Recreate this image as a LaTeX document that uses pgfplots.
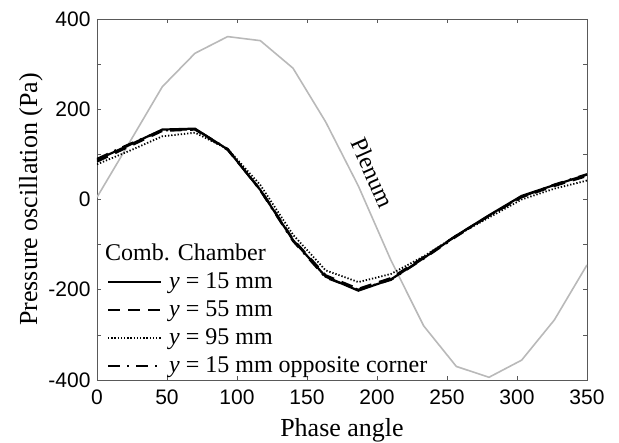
\documentclass[border=0pt]{standalone}
\usepackage{fontspec}
\setmainfont{Liberation Serif}
\setsansfont{Liberation Sans}
\usepackage{pgfplots}
\pgfplotsset{compat=1.18}
\begin{document}
\begin{tikzpicture}
\useasboundingbox (-97pt,-63pt) rectangle (522pt,380pt);
\begin{axis}[
 at={(0pt,0pt)}, anchor=south west,
 scale only axis, width=490pt, height=361pt,
 xmin=0, xmax=350, ymin=-400, ymax=400,
 xtick={0,50,...,350}, ytick={-400,-200,...,400}, minor ytick={-300,-100,100,300},
 tick align=inside, major tick length=4pt, minor tick length=4pt,
 axis line style={black!65, line width=0.8pt},
 every tick/.style={black!65, line width=0.6pt},
 every minor tick/.style={black!65, line width=0.6pt},
 tick label style={font=\fontsize{21}{25}\sffamily},
 xticklabel style={yshift=-6pt},
 yticklabel style={xshift=-3pt},
 /pgf/number format/assume math mode=true,
 xlabel={Phase angle}, ylabel={Pressure oscillation (Pa)},
 label style={font=\fontsize{26}{30}\selectfont},
 xlabel style={yshift=-7pt},
 ylabel style={yshift=-1pt},
 legend style={draw=none, fill=none, at={(axis cs:7,-90)}, anchor=north west,
   font=\fontsize{24}{28}\selectfont, inner sep=0pt, row sep=0pt,
   nodes={inner sep=2pt, text height=18pt, text depth=6pt},
   /tikz/every odd column/.append style={column sep=5pt}},
 legend cell align=left,
 legend image code/.code={\draw[#1] (0pt,0pt) -- (53pt,0pt);},
]
\addplot[gray!55, line width=1.6pt, forget plot] coordinates {
(0,5) (23.33,127) (46.67,250) (70,324) (93.33,361) (116.67,352) (140,291) (163.33,172)
(186.67,30) (210,-135) (233.33,-280) (256.67,-370) (280,-394) (303.33,-356) (326.67,-267) (350,-145)};
\addlegendimage{empty legend}
\addlegendentry{\kern-64pt Comb. Chamber}
\addplot[black, line width=2.2pt] coordinates {
(0,88) (23.33,121) (46.67,155) (70,157) (93.33,111) (116.67,21) (140,-90) (163.33,-171)
(186.67,-202) (210,-177) (233.33,-130) (256.67,-80) (280,-35) (303.33,8) (326.67,32) (350,55)};
\addlegendentry{\textit{y} = 15 mm}
\addplot[black, line width=2.2pt, dash pattern=on 12pt off 8pt] coordinates {
(0,84) (23.33,118) (46.67,152) (70,155) (93.33,110) (116.67,22) (140,-88) (163.33,-168)
(186.67,-198) (210,-174) (233.33,-128) (256.67,-80) (280,-36) (303.33,5) (326.67,30) (350,52)};
\addlegendentry{\textit{y} = 55 mm}
\addplot[black, line width=1.8pt, dash pattern=on 1.3pt off 1.9pt] coordinates {
(0,78) (23.33,108) (46.67,140) (70,148) (93.33,112) (116.67,32) (140,-78) (163.33,-157)
(186.67,-183) (210,-165) (233.33,-126) (256.67,-80) (280,-40) (303.33,0) (326.67,24) (350,42)};
\addlegendentry{\textit{y} = 95 mm}
\addplot[black, line width=2.2pt, dash pattern=on 12pt off 7pt on 2pt off 7pt] coordinates {
(0,90) (23.33,123) (46.67,153) (70,156) (93.33,112) (116.67,20) (140,-92) (163.33,-173)
(186.67,-200) (210,-178) (233.33,-131) (256.67,-82) (280,-36) (303.33,6) (326.67,33) (350,56)};
\addlegendentry{\textit{y} = 15 mm opposite corner}
\node[rotate=-66, font=\fontsize{24}{28}\selectfont] at (axis cs:197,60) {Plenum};
\end{axis}
\end{tikzpicture}
\end{document}
